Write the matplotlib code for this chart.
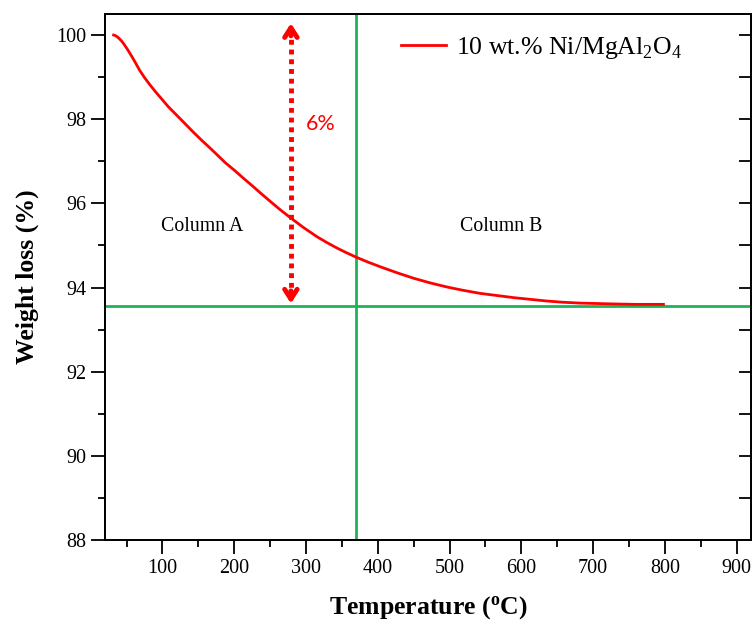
import matplotlib
matplotlib.use("Agg")
import matplotlib.pyplot as plt
from matplotlib.ticker import MultipleLocator

plt.rcParams['font.family'] = ['Liberation Serif', 'DejaVu Serif']
plt.rcParams['mathtext.fontset'] = 'custom'
plt.rcParams['mathtext.rm'] = 'Liberation Serif'
plt.rcParams['mathtext.bf'] = 'Liberation Serif:bold'

temperature = [32, 34, 36, 39, 43, 47, 52, 57, 61.5, 68, 75, 82, 90, 99, 108, 119, 130, 142,
               154, 166, 177, 188, 200, 212, 225, 237, 250, 264, 279, 297, 316, 330, 343, 356,
               370, 387, 404, 427, 450, 473, 497, 520, 543, 566, 589, 612, 635, 658, 682, 705,
               728, 760, 798]
weight = [100.0, 99.99, 99.97, 99.93, 99.86, 99.77, 99.64, 99.50, 99.37, 99.17, 98.99, 98.83,
          98.66, 98.48, 98.30, 98.11, 97.92, 97.71, 97.51, 97.32, 97.14, 96.96, 96.79, 96.61,
          96.42, 96.24, 96.05, 95.85, 95.65, 95.42, 95.20, 95.06, 94.94, 94.83, 94.72, 94.60,
          94.49, 94.35, 94.22, 94.11, 94.01, 93.93, 93.86, 93.81, 93.76, 93.72, 93.68, 93.65,
          93.63, 93.62, 93.61, 93.60, 93.60]
series_label = r'10 wt.% Ni/MgAl$_2$O$_4$'
vline_x = 370
hline_y = 93.56
arrow_x = 279
arrow_y = (93.62, 100.28)
red = '#FF0000'
green = '#1CB456'

fig = plt.figure(figsize=(7.54, 6.26), dpi=100)
ax = fig.add_axes([105/754, 1 - 540/626, (751-105)/754, (540-14)/626])

ax.plot(temperature, weight, color=red, lw=2, label=series_label, zorder=3)
ax.axvline(vline_x, color=green, lw=2, zorder=2)
ax.axhline(hline_y, color=green, lw=2, zorder=2)

# dotted double arrow
ax.plot([arrow_x, arrow_x], [arrow_y[0] + 0.15, arrow_y[1] - 0.15], color=red, lw=3.5,
        linestyle=(0, (1, 1)), zorder=4)
for y0, y1 in [(arrow_y[1] - 0.3, arrow_y[1]), (arrow_y[0] + 0.3, arrow_y[0])]:
    ax.annotate('', xy=(arrow_x, y1), xytext=(arrow_x, y0),
                arrowprops=dict(arrowstyle='->,head_length=0.7,head_width=0.45',
                                color=red, lw=3.5, shrinkA=0, shrinkB=0), zorder=4)

ax.text(321, 97.88, '6%', color=red, fontsize=15.5, family=['Lato', 'DejaVu Sans'],
        ha='center', va='center')
ax.text(155, 95.45, 'Column A', fontsize=14.3, ha='center', va='center')
ax.text(572, 95.45, 'Column B', fontsize=14.3, ha='center', va='center')

ax.set_xlim(20, 920)
ax.set_ylim(88, 100.5)
ax.xaxis.set_major_locator(MultipleLocator(100))
ax.xaxis.set_minor_locator(MultipleLocator(50))
ax.yaxis.set_major_locator(MultipleLocator(2))
ax.yaxis.set_minor_locator(MultipleLocator(1))
ax.tick_params(which='major', direction='out', length=10, width=1.3, labelsize=14.5)
ax.tick_params(which='minor', direction='out', length=5, width=1.3)
ax.tick_params(axis='x', pad=4)

# right-side inward ticks
ax2 = ax.twinx()
ax2.set_ylim(ax.get_ylim())
ax2.yaxis.set_major_locator(MultipleLocator(1))
ax2.yaxis.set_minor_locator(MultipleLocator(1))
ax2.tick_params(axis='y', which='both', direction='in', length=9, width=1.3, labelright=False)

for a in (ax, ax2):
    for s in a.spines.values():
        s.set_linewidth(1.3)

ax.set_xlabel('Temperature ($\\mathbf{^o}$C)', fontsize=18.5, fontweight='bold', labelpad=11)
ax.set_ylabel('Weight loss (%)', fontsize=18.5, fontweight='bold', labelpad=12)

leg = ax.legend(loc='center left', bbox_to_anchor=((401-105)/646, (540-48)/526), frameon=False,
                fontsize=18.5, handlelength=1.75, handletextpad=0.4, borderpad=0,
                borderaxespad=0)

fig.savefig('out.png', dpi=100)
